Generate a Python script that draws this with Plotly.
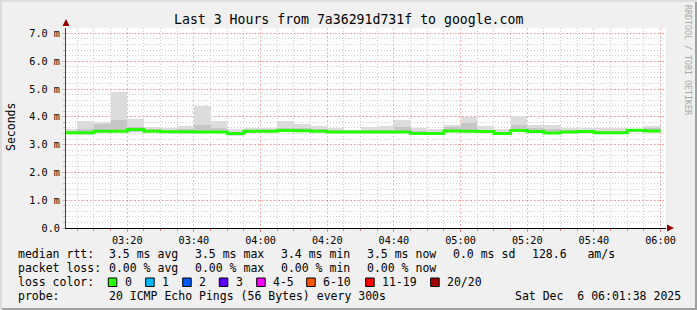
import plotly.graph_objects as go
import pandas as pd

# ---------------- data ----------------
interval_end = ["03:05", "03:10", "03:15", "03:20", "03:25", "03:30", "03:35", "03:40",
                "03:45", "03:50", "03:55", "04:00", "04:05", "04:10", "04:15", "04:20",
                "04:25", "04:30", "04:35", "04:40", "04:45", "04:50", "04:55", "05:00",
                "05:05", "05:10", "05:15", "05:20", "05:25", "05:30", "05:35", "05:40",
                "05:45", "05:50", "05:55", "06:00"]
median_ms = [3.43, 3.43, 3.48, 3.48, 3.54, 3.48, 3.46, 3.46, 3.45, 3.45, 3.40, 3.48,
             3.48, 3.51, 3.50, 3.48, 3.45, 3.45, 3.45, 3.45, 3.45, 3.40, 3.40, 3.49,
             3.48, 3.47, 3.40, 3.51, 3.47, 3.42, 3.45, 3.47, 3.43, 3.43, 3.52, 3.49]
smoke_max = [3.56, 3.84, 3.80, 4.90, 3.91, 3.62, 3.60, 3.68, 4.39, 3.84, 3.56, 3.60,
             3.60, 3.86, 3.75, 3.68, 3.60, 3.54, 3.64, 3.68, 3.87, 3.60, 3.57, 3.70,
             4.00, 3.66, 3.56, 4.04, 3.70, 3.70, 3.60, 3.58, 3.58, 3.58, 3.56, 3.66]
smoke_p90 = [3.50, 3.55, 3.74, 3.90, 3.62, 3.55, 3.52, 3.56, 3.70, 3.58, 3.46, 3.54,
             3.54, 3.58, 3.58, 3.56, 3.52, 3.51, 3.52, 3.54, 3.62, 3.48, 3.46, 3.62,
             3.78, 3.54, 3.46, 3.72, 3.58, 3.55, 3.52, 3.53, 3.50, 3.50, 3.55, 3.60]
smoke_p10 = [3.40, 3.39, 3.44, 3.45, 3.46, 3.45, 3.43, 3.41, 3.42, 3.42, 3.34, 3.45,
             3.45, 3.47, 3.46, 3.45, 3.42, 3.43, 3.42, 3.42, 3.42, 3.37, 3.38, 3.46,
             3.45, 3.44, 3.37, 3.46, 3.44, 3.40, 3.43, 3.45, 3.41, 3.41, 3.48, 3.46]
smoke_min = [3.38, 3.36, 3.42, 3.44, 3.44, 3.44, 3.42, 3.38, 3.40, 3.40, 3.30, 3.44,
             3.44, 3.46, 3.44, 3.44, 3.40, 3.42, 3.40, 3.40, 3.40, 3.36, 3.38, 3.44,
             3.44, 3.42, 3.36, 3.44, 3.42, 3.38, 3.42, 3.44, 3.40, 3.40, 3.46, 3.44]

y_tick_vals = [0, 1, 2, 3, 4, 5, 6, 7]
y_tick_text = ["0.0", "1.0 m", "2.0 m", "3.0 m", "4.0 m", "5.0 m", "6.0 m", "7.0 m"]

title_text = "Last 3 Hours from 7a36291d731f to google.com"
rtt_stats = ["3.5 ms avg", "3.5 ms max", "3.4 ms min", "3.5 ms now", "0.0 ms sd", "128.6   am/s"]
loss_stats = ["0.00 % avg", "0.00 % max", "0.00 % min", "0.00 % now"]
loss_labels = ["0", "1", "2", "3", "4-5", "6-10", "11-19", "20/20"]
loss_colors = ["#26ff00", "#00b8ff", "#0059ff", "#5e00ff", "#ff00ff", "#ff5500", "#ff0000", "#a00000"]
probe_text = "20 ICMP Echo Pings (56 Bytes) every 300s"
date_text = "Sat Dec  6 06:01:38 2025"

# ---------------- geometry ----------------
W, H = 697, 310
L, R, T, B = 66, 31, 28, 82
PW, PH = W - L - R, H - T - B
DAY = "2025-12-06 "


def px(x):
    return (x - L) / PW


def py(y):
    return (H - B - y) / PH


def nb(s):
    return s.replace(" ", "\u00a0")


ends = pd.to_datetime([DAY + t for t in interval_end])
step = pd.Timedelta(minutes=5)
centers = ends - step / 2
starts = ends - step

fig = go.Figure()

# smoke: outer band (min..max)
fig.add_trace(go.Bar(x=centers, base=smoke_min,
                     y=[hi - lo for hi, lo in zip(smoke_max, smoke_min)],
                     width=300000, marker=dict(color="#dcdcdc", line=dict(width=0)),
                     hoverinfo="skip", showlegend=False))
# smoke: middle band
fig.add_trace(go.Bar(x=centers, base=smoke_p10,
                     y=[hi - lo for hi, lo in zip(smoke_p90, smoke_p10)],
                     width=300000, marker=dict(color="#c6c6c6", line=dict(width=0)),
                     hoverinfo="skip", showlegend=False))
# median line
fig.add_trace(go.Scatter(x=list(starts) + [ends[-1]], y=median_ms + [median_ms[-1]],
                         mode="lines", line=dict(color=loss_colors[0], width=3, shape="hv"),
                         hoverinfo="skip", showlegend=False))

axis_font = dict(family="DejaVu Sans Mono", size=10.2, color="#000000")
legend_font = dict(family="DejaVu Sans Mono", size=11.5, color="#000000")

fig.update_layout(
    width=W, height=H,
    margin=dict(l=L, r=R, t=T, b=B, pad=0),
    paper_bgcolor="#f0f0f0", plot_bgcolor="#ffffff",
    barmode="overlay", bargap=0,
    showlegend=False,
    xaxis=dict(type="date",
               range=[DAY + "03:01:38", DAY + "06:01:38"],
               tick0=DAY + "03:00:00", dtick=1200000, tickformat="%H:%M",
               tickfont=axis_font,
               showgrid=True, gridcolor="rgba(255,0,0,0.28)", griddash="2px,2px", gridwidth=1,
               minor=dict(tick0=DAY + "03:00:00", dtick=300000, showgrid=True,
                          gridcolor="#d0d0d0", griddash="1px,2px", gridwidth=1,
                          ticks="outside", ticklen=2, tickcolor="#f08080"),
               ticks="outside", ticklen=3, tickcolor="#f08080",
               showline=True, linecolor="#000000", linewidth=1,
               zeroline=False, fixedrange=True),
    yaxis=dict(range=[0, PH / 27.8],
               tickvals=y_tick_vals, ticktext=y_tick_text,
               tickfont=axis_font,
               showgrid=True, gridcolor="rgba(255,0,0,0.28)", griddash="2px,2px", gridwidth=1,
               minor=dict(dtick=0.2, showgrid=True, gridcolor="#d0d0d0",
                          griddash="1px,2px", gridwidth=1,
                          ticks="outside", ticklen=2, tickcolor="#c0c0c0"),
               ticks="outside", ticklen=3, tickcolor="#c0c0c0",
               showline=True, linecolor="#444444", linewidth=1,
               zeroline=False, fixedrange=True),
)

ann = []
shapes = []


def text(x, y, s, font, xanchor="left", angle=0):
    ann.append(dict(x=px(x), y=py(y), xref="paper", yref="paper", text=nb(s),
                    showarrow=False, xanchor=xanchor, yanchor="middle",
                    font=font, textangle=angle))


# title
text(348, 19, title_text, dict(family="DejaVu Sans Mono", size=13.2, color="#000000"), "center")
# y axis title
text(11, 127, "Seconds", legend_font, "center", -90)
# watermark
text(688, 60, "RRDTOOL / TOBI OETIKER", dict(family="DejaVu Sans Mono", size=8.3, color="#a8a8a8"),
     "center", 90)

col_x = [107, 193, 279, 365, 451, 530]
text(16, 254, "median rtt:", legend_font)
for s, x in zip(rtt_stats, col_x):
    text(x, 254, s, legend_font)
text(16, 268, "packet loss:", legend_font)
for s, x in zip(loss_stats, col_x):
    text(x, 268, s, legend_font)
text(16, 282, "loss color:", legend_font)
box_x = [108.3, 145.7, 182.7, 219.3, 256.7, 306.7, 365.7, 430.7]
for lab, colr, bx in zip(loss_labels, loss_colors, box_x):
    shapes.append(dict(type="rect", xref="paper", yref="paper",
                       x0=px(bx), x1=px(bx + 8.5), y0=py(286.5), y1=py(278),
                       fillcolor=colr, line=dict(color="#000000", width=1)))
    text(bx + 14.5, 282, lab, legend_font)
text(16, 296, "probe:", legend_font)
text(107, 296, probe_text, legend_font)
text(513, 296, date_text, legend_font)

# axis arrows
shapes.append(dict(type="path", xref="paper", yref="paper",
                   path=f"M {px(62.5)} {py(26)} L {px(69.5)} {py(26)} L {px(66)} {py(19)} Z",
                   fillcolor="#900000", line=dict(width=0)))
shapes.append(dict(type="path", xref="paper", yref="paper",
                   path=f"M {px(667)} {py(224.5)} L {px(667)} {py(231.5)} L {px(674)} {py(228)} Z",
                   fillcolor="#900000", line=dict(width=0)))
# frame edges
shapes.append(dict(type="rect", xref="paper", yref="paper", x0=px(695), x1=px(697), y0=py(310), y1=py(0),
                   fillcolor="#a0a0a0", line=dict(width=0)))
shapes.append(dict(type="rect", xref="paper", yref="paper", x0=px(0), x1=px(697), y0=py(310), y1=py(308),
                   fillcolor="#a0a0a0", line=dict(width=0)))
shapes.append(dict(type="rect", xref="paper", yref="paper", x0=px(0), x1=px(2), y0=py(310), y1=py(0),
                   fillcolor="#dcdcdc", line=dict(width=0)))
shapes.append(dict(type="rect", xref="paper", yref="paper", x0=px(0), x1=px(697), y0=py(2), y1=py(0),
                   fillcolor="#dcdcdc", line=dict(width=0)))

fig.update_layout(annotations=ann, shapes=shapes)
fig.write_html("out.html")
